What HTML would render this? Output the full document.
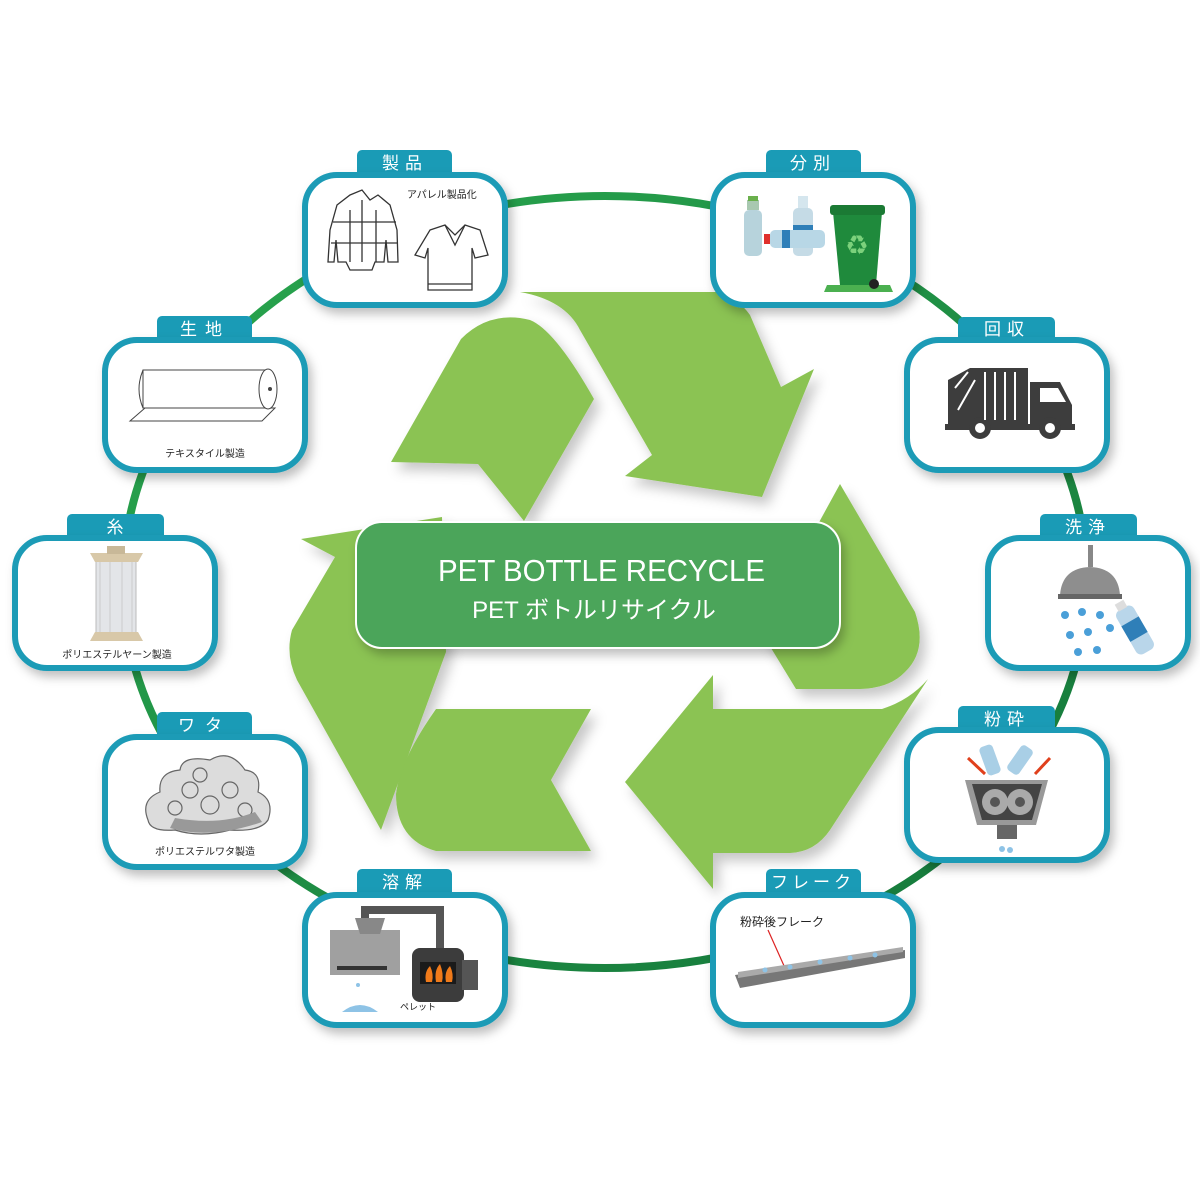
<!DOCTYPE html>
<html><head><meta charset="utf-8">
<style>
html,body{margin:0;padding:0;background:#fff;}
svg{display:block;}
text{font-family:"Liberation Sans","Noto Sans CJK JP",sans-serif;}
</style></head>
<body>
<svg width="1200" height="1200" viewBox="0 0 1200 1200" xmlns="http://www.w3.org/2000/svg">
<defs>
<filter id="sh" x="-20%" y="-20%" width="150%" height="150%">
<feDropShadow dx="6" dy="8" stdDeviation="6" flood-color="#000" flood-opacity="0.22"/>
</filter>
<filter id="sh2" x="-20%" y="-20%" width="150%" height="150%">
<feDropShadow dx="4" dy="6" stdDeviation="5" flood-color="#000" flood-opacity="0.25"/>
</filter>
<linearGradient id="ring" x1="0" y1="0" x2="1" y2="1">
<stop offset="0" stop-color="#2aa84f"/><stop offset="1" stop-color="#14763a"/>
</linearGradient>
<g id="card">
<rect x="0" y="0" width="200" height="130" rx="32" fill="#fff" stroke="#1a9bb6" stroke-width="6"/>
</g>
</defs>

<ellipse cx="605" cy="582" rx="482" ry="386" fill="none" stroke="url(#ring)" stroke-width="8"/>

<g fill="#8bc353" filter="url(#sh)">
<path d="M391,462 L461,339 Q490,310 530,320 Q555,330 594,399 L524,521 L478,464 Z"/>
<path d="M520,292 L718,292 Q738,298 750,315 L781,387 L814,369 L762,497 L625,476 L652,455 L580,330 Q565,300 520,292 Z"/>
<path d="M840,484 L915,612 Q928,650 905,672 Q890,688 860,689 L796,689 L760,630 Z"/>
<path d="M713,675 L713,709 L882,709 Q910,700 928,679 L830,830 Q815,852 790,853 L713,853 L713,889 L625,782 Z"/>
<path d="M436,709 L591,709 L551,780 L591,851 L436,851 Q396,840 396,794 Q400,760 436,709 Z"/>
<path d="M301,539 L442,517 L446,652 L381,830 L297,680 Q285,655 292,630 L335,557 Z"/>
</g>

<rect x="356" y="522" width="484" height="126" rx="26" fill="#4ba55a" stroke="#fff" stroke-width="2" filter="url(#sh2)"/>
<text x="438" y="581" fill="#fff" font-size="31" textLength="327" lengthAdjust="spacingAndGlyphs">PET BOTTLE RECYCLE</text>
<text x="594" y="618" text-anchor="middle" fill="#fff" font-size="24">PET ボトルリサイクル</text>

<g font-size="17" fill="#fff" text-anchor="middle">
<g transform="translate(305,175)"><rect x="52" y="-25" width="95" height="32" rx="5" fill="#1a9bb6"/><use href="#card" filter="url(#sh2)"/><text x="100" y="-6" letter-spacing="6">製品</text></g>
<g transform="translate(713,175)"><rect x="53" y="-25" width="95" height="32" rx="5" fill="#1a9bb6"/><use href="#card" filter="url(#sh2)"/><text x="100" y="-6" letter-spacing="6">分別</text></g>
<g transform="translate(907,340)"><rect x="51" y="-23" width="97" height="30" rx="5" fill="#1a9bb6"/><use href="#card" filter="url(#sh2)"/><text x="100" y="-5" letter-spacing="6">回収</text></g>
<g transform="translate(988,538)"><rect x="52" y="-24" width="97" height="30" rx="5" fill="#1a9bb6"/><use href="#card" filter="url(#sh2)"/><text x="100" y="-5" letter-spacing="6">洗浄</text></g>
<g transform="translate(907,730)"><rect x="51" y="-24" width="97" height="30" rx="5" fill="#1a9bb6"/><use href="#card" filter="url(#sh2)"/><text x="100" y="-5" letter-spacing="6">粉砕</text></g>
<g transform="translate(713,895)"><rect x="53" y="-26" width="95" height="32" rx="5" fill="#1a9bb6"/><use href="#card" filter="url(#sh2)"/><text x="100" y="-7" letter-spacing="4">フレーク</text></g>
<g transform="translate(305,895)"><rect x="52" y="-26" width="95" height="32" rx="5" fill="#1a9bb6"/><use href="#card" filter="url(#sh2)"/><text x="100" y="-7" letter-spacing="6">溶解</text></g>
<g transform="translate(105,737)"><rect x="52" y="-25" width="95" height="31" rx="5" fill="#1a9bb6"/><use href="#card" filter="url(#sh2)"/><text x="100" y="-6" letter-spacing="10">ワタ</text></g>
<g transform="translate(15,538)"><rect x="52" y="-24" width="97" height="30" rx="5" fill="#1a9bb6"/><use href="#card" filter="url(#sh2)"/><text x="100" y="-5">糸</text></g>
<g transform="translate(105,340)"><rect x="52" y="-24" width="95" height="30" rx="5" fill="#1a9bb6"/><use href="#card" filter="url(#sh2)"/><text x="100" y="-5" letter-spacing="8">生地</text></g>
</g>

<g fill="none" stroke="#333" stroke-width="1.3">
<path d="M350,195 L362,190 L370,200 L378,195 L390,205 L397,230 L398,262 L388,262 L386,240 L384,262 L375,262 L372,270 L350,270 L346,262 L338,262 L336,240 L334,262 L328,262 L330,230 L337,205 Z"/>
<path d="M333,222 H396 M331,243 H397 M362,200 V262 M350,210 V262 M376,210 V262"/>
<path d="M430,230 L445,225 L455,235 L465,225 L480,230 L488,255 L475,258 L472,248 L472,290 L428,290 L428,248 L425,258 L415,255 Z"/>
<path d="M445,225 L455,245 L465,225 M428,284 H472"/>
</g>
<text x="407" y="198" font-size="10" fill="#222">アパレル製品化</text>

<rect x="744" y="210" width="18" height="46" rx="5" fill="#b7d3dc"/>
<rect x="747" y="200" width="12" height="10" fill="#a8c8b0"/><rect x="748" y="196" width="10" height="5" fill="#6ab04c"/>
<rect x="793" y="208" width="20" height="48" rx="5" fill="#c5dbe6"/><rect x="793" y="225" width="20" height="20" fill="#2f7fb8"/>
<rect x="798" y="196" width="10" height="12" fill="#d5e6ee"/>
<rect x="770" y="230" width="55" height="18" rx="5" fill="#b8d7e6"/><rect x="764" y="234" width="6" height="10" fill="#e0302c"/><rect x="782" y="230" width="8" height="18" fill="#2f7fb8"/>
<path d="M833,212 L882,212 L876,285 L840,285 Z" fill="#1f8a3c"/>
<rect x="830" y="205" width="55" height="10" rx="3" fill="#1b7a34"/>
<path d="M827,285 L890,285 L893,292 L824,292 Z" fill="#4bb050"/>
<circle cx="874" cy="284" r="5" fill="#222"/>
<text x="857" y="252" font-size="20" fill="#7cd17c" text-anchor="middle">♻</text>

<g fill="#3d3d3d">
<path d="M948,380 L970,368 L1028,368 L1028,425 L948,425 Z"/>
<path d="M1030,382 L1060,382 L1072,405 L1072,425 L1030,425 Z"/>
<rect x="945" y="424" width="130" height="6"/>
<circle cx="980" cy="428" r="11"/><circle cx="1050" cy="428" r="11"/>
</g>
<circle cx="980" cy="428" r="5" fill="#fff"/><circle cx="1050" cy="428" r="5" fill="#fff"/>
<path d="M1040,388 L1058,388 L1066,402 L1040,402 Z" fill="#fff"/>
<g stroke="#fff" stroke-width="2"><path d="M985,372 V420 M995,372 V420 M1005,372 V420 M1015,372 V420"/><path d="M955,388 L968,372 M958,410 L975,380"/></g>

<rect x="1088" y="545" width="5" height="22" fill="#888"/>
<path d="M1060,595 Q1062,568 1090,567 Q1118,568 1120,595 Z" fill="#8e8e8e"/>
<rect x="1058" y="594" width="64" height="5" fill="#666"/>
<g fill="#4a9fd8">
<circle cx="1065" cy="615" r="4"/><circle cx="1082" cy="612" r="4"/><circle cx="1100" cy="615" r="4"/><circle cx="1070" cy="635" r="4"/><circle cx="1088" cy="632" r="4"/><circle cx="1078" cy="652" r="4"/><circle cx="1097" cy="650" r="4"/><circle cx="1110" cy="628" r="4"/>
</g>
<g transform="rotate(-30 1135 630)"><rect x="1125" y="605" width="20" height="50" rx="6" fill="#b9d6ea"/><rect x="1125" y="620" width="20" height="18" fill="#2f7fb8"/><rect x="1130" y="598" width="10" height="8" fill="#ddd"/></g>

<rect x="983" y="745" width="14" height="30" rx="4" fill="#a9cfe6" transform="rotate(-20 990 760)"/>
<rect x="1013" y="745" width="14" height="30" rx="4" fill="#a9cfe6" transform="rotate(35 1020 760)"/>
<path d="M968,758 L985,774" stroke="#e0401c" stroke-width="3"/><path d="M1050,758 L1035,774" stroke="#e0401c" stroke-width="3"/>
<path d="M965,780 L1048,780 L1036,825 L977,825 Z" fill="#999"/>
<path d="M972,784 L1042,784 L1032,820 L982,820 Z" fill="#444"/>
<circle cx="995" cy="802" r="13" fill="#aaa"/><circle cx="1020" cy="802" r="13" fill="#aaa"/>
<circle cx="995" cy="802" r="5" fill="#555"/><circle cx="1020" cy="802" r="5" fill="#555"/>
<rect x="997" y="825" width="20" height="14" fill="#666"/>
<circle cx="1002" cy="849" r="3" fill="#8ec3e6"/><circle cx="1010" cy="850" r="3" fill="#8ec3e6"/>

<text x="740" y="926" font-size="12" fill="#222">粉砕後フレーク</text>
<path d="M768,930 L785,968" stroke="#d22" stroke-width="1.2"/>
<path d="M735,975 L905,950 L905,958 L740,988 Z" fill="#777"/>
<path d="M738,972 L903,947 L903,952 L738,978 Z" fill="#aaa"/>
<g fill="#8ec3e6"><circle cx="765" cy="970" r="2.5"/><circle cx="790" cy="967" r="2.5"/><circle cx="820" cy="962" r="2.5"/><circle cx="850" cy="958" r="2.5"/><circle cx="875" cy="955" r="2.5"/></g>

<path d="M365,930 V910 H440 V950" fill="none" stroke="#555" stroke-width="8"/>
<rect x="330" y="930" width="70" height="45" fill="#a0a0a0"/>
<path d="M355,918 L385,918 L380,934 L360,934 Z" fill="#888"/>
<rect x="337" y="966" width="50" height="4" fill="#333"/>
<rect x="412" y="948" width="52" height="54" rx="8" fill="#3c3c3c"/>
<rect x="462" y="960" width="16" height="30" fill="#555"/>
<rect x="420" y="962" width="36" height="22" fill="#1a1a1a"/>
<g fill="#f07a1a"><path d="M426,982 Q424,972 430,966 Q434,974 432,982 Z"/><path d="M436,982 Q434,970 440,964 Q444,974 442,982 Z"/><path d="M446,982 Q444,972 450,966 Q454,974 452,982 Z"/></g>
<path d="M342,1012 Q360,998 378,1012 Z" fill="#8ec3e6"/>
<circle cx="358" cy="985" r="2" fill="#8ec3e6"/>
<text x="400" y="1010" font-size="9" fill="#222">ペレット</text>

<g fill="#dcdcdc" stroke="#666" stroke-width="1.2">
<path d="M148,820 Q140,800 160,792 Q158,772 180,770 Q182,755 210,760 Q230,748 245,770 Q262,772 258,792 Q275,800 268,820 Q260,832 230,830 Q200,838 175,830 Q150,832 148,820 Z"/>
<circle cx="190" cy="790" r="8"/><circle cx="210" cy="805" r="9"/><circle cx="230" cy="790" r="8"/><circle cx="200" cy="775" r="7"/><circle cx="175" cy="808" r="7"/><circle cx="245" cy="810" r="7"/>
</g>
<path d="M170,828 Q210,840 262,822 L255,812 Q220,826 175,818 Z" fill="#999"/>
<text x="205" y="855" font-size="10" fill="#222" text-anchor="middle">ポリエステルワタ製造</text>

<rect x="96" y="558" width="40" height="78" fill="#e3e5e8" stroke="#bbb"/>
<g stroke="#bbb" stroke-width="0.6"><path d="M100,558 V636 M132,558 V636 M110,558 V636 M122,558 V636"/></g>
<path d="M90,553 L143,553 L138,562 L95,562 Z" fill="#d8c8a8"/>
<rect x="107" y="546" width="18" height="8" fill="#c8b898"/>
<path d="M95,632 L138,632 L143,641 L90,641 Z" fill="#d8c8a8"/>
<text x="117" y="658" font-size="10" fill="#222" text-anchor="middle">ポリエステルヤーン製造</text>

<path d="M130,421 L145,408 L275,408 L262,421 Z" fill="#fff" stroke="#444"/>
<rect x="143" y="370" width="122" height="38" fill="#fff" stroke="#444"/>
<path d="M143,370 Q135,389 143,408" fill="none" stroke="#444"/>
<ellipse cx="268" cy="389" rx="9" ry="20" fill="#fff" stroke="#444"/>
<circle cx="270" cy="389" r="2" fill="#444"/>
<text x="205" y="457" font-size="10" fill="#222" text-anchor="middle">テキスタイル製造</text>
</svg>
</body></html>
